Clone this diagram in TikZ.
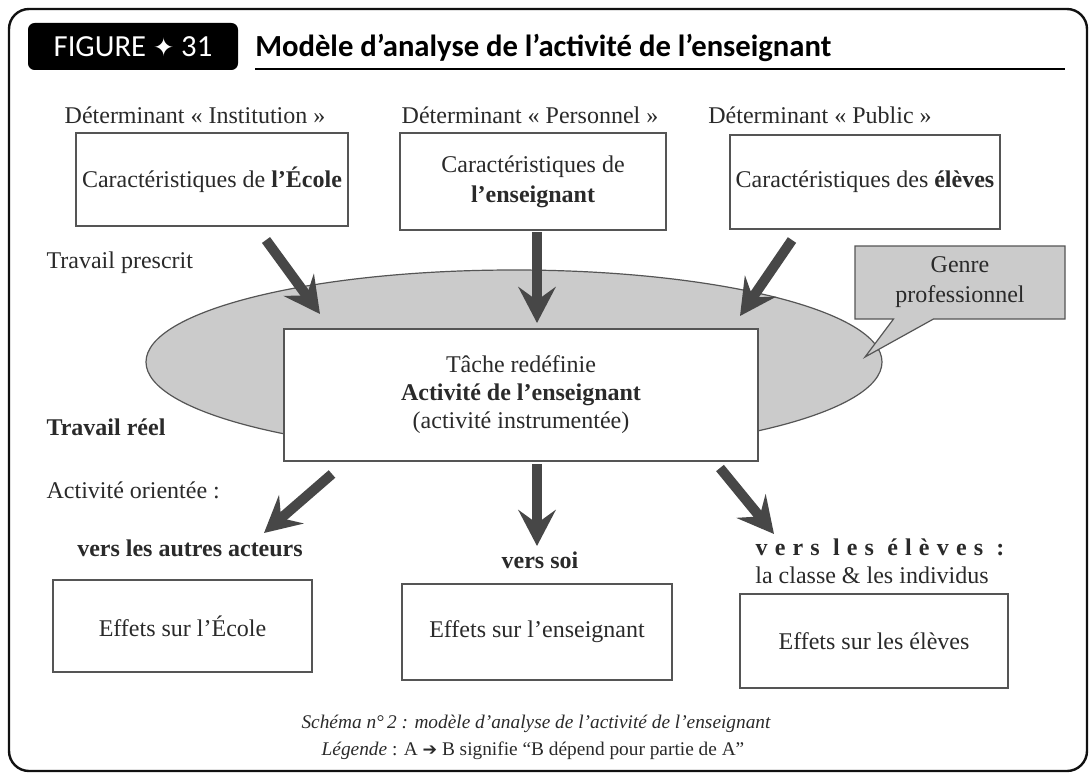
\documentclass[tikz,border=0pt]{standalone}
\usepackage{fontspec}
\setmainfont{Liberation Serif}
\newfontfamily\calfont{Carlito}
\newfontfamily\djfont{DejaVu Sans}
\usetikzlibrary{arrows.meta,shapes.geometric,shapes.callouts}
\definecolor{framec}{HTML}{111111}
\definecolor{arrowc}{HTML}{474747}
\definecolor{boxc}{HTML}{555555}
\definecolor{ellc}{HTML}{CBCBCB}
\definecolor{txtc}{HTML}{2A2A2A}
\tikzset{
  lbl/.style={text=txtc, inner sep=1pt},
  boxnode/.style={draw=boxc, line width=0.9pt, fill=white, text=txtc, align=center, inner sep=2pt},
  bigarrow/.style={draw=arrowc, line width=7.5pt, -{Stealth[length=27pt 0, width=28pt 0, inset=10pt 0]}},
}
\begin{document}
\begin{tikzpicture}[x=0.75pt,y=-0.75pt, font=\fontsize{18}{21}\selectfont]
\useasboundingbox (0,0) rectangle (1089,774);
\fill[white] (0,0) rectangle (1089,774);
\draw[line width=1.8pt, framec, rounded corners=15pt] (9,9) rectangle (1087,771);

% header
\node[fill=black, rounded corners=5pt, minimum width=157.5pt, minimum height=35.25pt, text=white,
      font=\calfont\fontsize{23}{26}\selectfont] (fig) at (133,46.5)
      {FIGURE {\djfont\fontsize{19}{22}\selectfont ✦} 31};
\node[anchor=base west, inner sep=0, text=black, font=\calfont\bfseries\fontsize{23}{26}\selectfont]
      (title) at (255,57) {Modèle d’analyse de l’activité de l’enseignant};
\coordinate (ulA) at (255,69);
\coordinate (ulB) at (1065,69);
\draw[line width=1.6pt, black] (ulA) -- (ulB);

% determinants
\node[lbl] (d1) at (195,115) {Déterminant «~Institution~»};
\node[lbl] (d2) at (530,115) {Déterminant «~Personnel~»};
\node[lbl] (d3) at (820,115) {Déterminant «~Public~»};

\node[boxnode, minimum width=204pt, minimum height=69.75pt] (b1) at (212,179.5)
      {Caractéristiques de \textbf{l’École}};
\node[boxnode, minimum width=199.5pt, minimum height=72.75pt, font=\fontsize{18}{22.5}\selectfont] (b2) at (533,181.5)
      {Caractéristiques de\\\textbf{l’enseignant}};
\node[boxnode, minimum width=202.5pt, minimum height=70.5pt] (b3) at (865,182)
      {Caractéristiques des \textbf{élèves}};

\node[lbl, anchor=west] (tp) at (45,263) {Travail prescrit};

% ellipse
\node[ellipse, draw=boxc, line width=0.9pt, fill=ellc, minimum width=552pt, minimum height=138pt, inner sep=0] (ell) at (514,362) {};

% genre callout
\coordinate (gtip) at (865,357);
\node[rectangle callout, callout absolute pointer={(gtip)}, callout pointer width=30pt,
      draw=boxc, line width=0.9pt, fill=ellc, text=txtc, align=center,
      font=\fontsize{18}{22.5}\selectfont,
      minimum width=157.5pt, minimum height=54.75pt] (genre) at (960,282.5)
      {Genre\\professionnel};

% central box
\node[boxnode, minimum width=355.5pt, minimum height=99pt, font=\fontsize{18}{21}\selectfont] (c) at (521,395)
      {Tâche redéfinie\\\textbf{Activité de l’enseignant}\\(activité instrumentée)};

\node[lbl, anchor=west, font=\fontsize{18}{21}\selectfont\bfseries] (tr) at (45,427) {Travail réel};
\node[lbl, anchor=west] (ao) at (45,490) {Activité orientée :};

% top arrows
\coordinate (a1s) at (266,240); \coordinate (a1e) at (320,314);
\coordinate (a2s) at (537,232); \coordinate (a2e) at (537,323);
\coordinate (a3s) at (792,240); \coordinate (a3e) at (740,316);
\draw[bigarrow] (a1s) -- (a1e);
\draw[bigarrow] (a2s) -- (a2e);
\draw[bigarrow] (a3s) -- (a3e);

% bottom arrows
\coordinate (a4s) at (332,474); \coordinate (a4e) at (264,533);
\coordinate (a5s) at (537,464); \coordinate (a5e) at (537,546);
\coordinate (a6s) at (720,468); \coordinate (a6e) at (774,534);
\draw[bigarrow] (a4s) -- (a4e);
\draw[bigarrow] (a5s) -- (a5e);
\draw[bigarrow] (a6s) -- (a6e);

\node[lbl, font=\fontsize{18}{21}\selectfont\bfseries] (v1) at (190,548) {vers les autres acteurs};
\node[lbl, font=\fontsize{18}{21}\selectfont\bfseries] (v2) at (540,560) {vers soi};
\node[lbl, font=\fontsize{18}{21}\selectfont\bfseries\addfontfeatures{LetterSpace=30}] (v3) at (880,547) {vers les élèves :};
\node[lbl] (v4) at (872,575) {la classe \& les individus};

\node[boxnode, minimum width=194.25pt, minimum height=69pt] (e1) at (182.5,626) {Effets sur l’École};
\node[boxnode, minimum width=202.5pt, minimum height=72pt] (e2) at (537,632) {Effets sur l’enseignant};
\node[boxnode, minimum width=201pt, minimum height=70.5pt] (e3) at (874,641) {Effets sur les élèves};

% caption
\node[lbl, font=\fontsize{14.5}{17}\selectfont\itshape] (cap1) at (536,724)
      {Schéma n°\,2 : modèle d’analyse de l’activité de l’enseignant};
\node[lbl, font=\fontsize{14.5}{17}\selectfont] (cap2) at (533,751)
      {\textit{Légende} : A {\djfont\bfseries\fontsize{13}{14}\selectfont ➔} B signifie “B dépend pour partie de A”};
\end{tikzpicture}
\end{document}
